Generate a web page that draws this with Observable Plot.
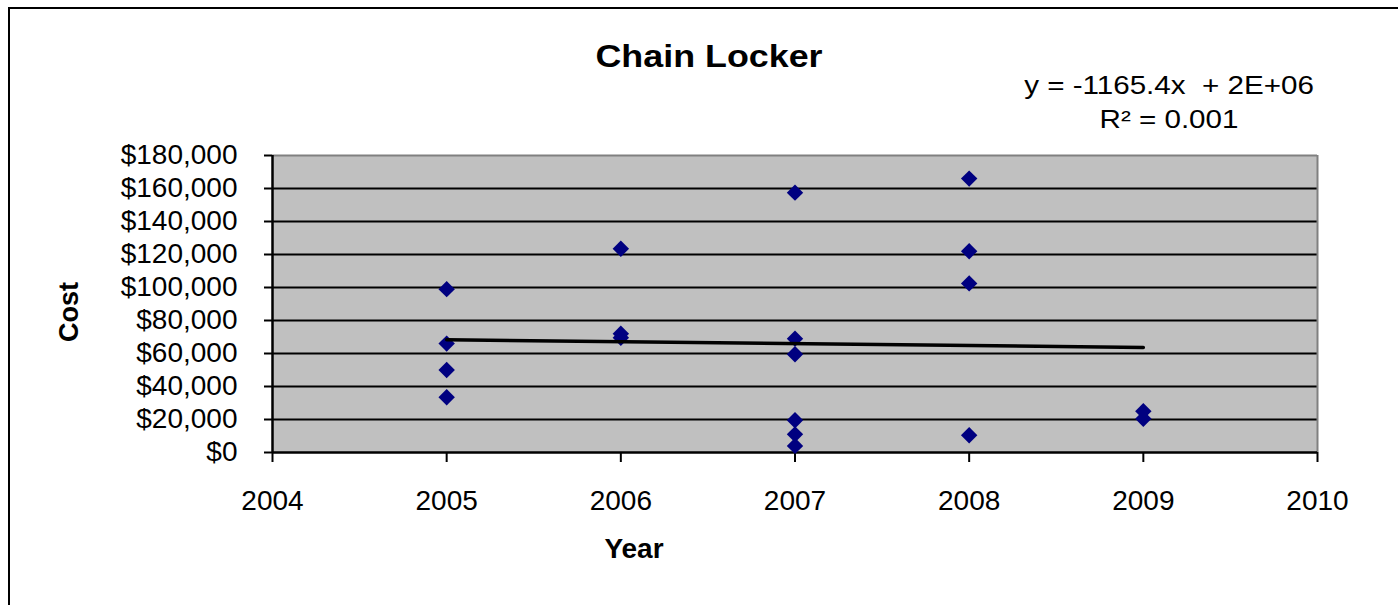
<!DOCTYPE html>
<html>
<head>
<meta charset="utf-8">
<script src="https://cdn.jsdelivr.net/npm/d3@7"></script>
<script src="https://cdn.jsdelivr.net/npm/@observablehq/plot@0.6"></script>
<style>
  html, body { margin: 0; padding: 0; background: #fff; }
  #wrap { position: relative; width: 1398px; height: 605px; overflow: hidden; font-family: "Liberation Sans", Arial, sans-serif; color: #000; }
  #border { position: absolute; left: 8px; top: 7px; width: 1500px; height: 700px; border: 2px solid #000; box-sizing: border-box; }
  #chart { position: absolute; left: 0; top: 0; }
  .txt { position: absolute; white-space: nowrap; text-align: center; }
</style>
</head>
<body>
<div id="wrap">
  <div id="border"></div>
  <div id="chart"></div>
  <div class="txt" id="title" style="left:0;width:1418px;top:40px;font-size:32px;line-height:32px;font-weight:bold;transform:scaleX(1.12);">Chain Locker</div>
  <div class="txt" id="eq" style="left:969px;width:400px;top:68px;font-size:25.5px;line-height:34px;transform:scaleX(1.16);">y = -1165.4x&nbsp; + 2E+06<br>R² = 0.001</div>
  <div class="txt" id="ylab" style="left:69px;top:312px;font-size:27px;line-height:27px;font-weight:bold;transform:translate(-50%,-50%) rotate(-90deg);">Cost</div>
  <div class="txt" id="xlab" style="left:434px;width:400px;top:535px;font-size:28px;line-height:28px;font-weight:bold;">Year</div>
</div>
<script>
// Data
const years = [2005, 2005, 2005, 2005,
               2006, 2006, 2006,
               2007, 2007, 2007, 2007, 2007, 2007,
               2008, 2008, 2008, 2008,
               2009, 2009];
const costs = [99000, 66000, 50000, 33500,
               123500, 72000, 69500,
               157500, 69000, 59500, 19500, 11000, 4000,
               166000, 122000, 102500, 10500,
               25000, 20500];
// Linear trend line (y = -1165.4x + b) endpoints
const trendYears = [2005, 2009];
const trendCosts = [68300, 63640];
// Axis ticks
const xTicks = [2004, 2005, 2006, 2007, 2008, 2009, 2010];
const yTicks = [0, 20000, 40000, 60000, 80000, 100000, 120000, 140000, 160000, 180000];
const gridTicks = yTicks.filter(d => d > 0 && d < 180000);

const points = years.map((x, i) => ({x, y: costs[i]}));
const trend = trendYears.map((x, i) => ({x, y: trendCosts[i]}));
const money = d3.format(",");

const chart = Plot.plot({
  width: 1398,
  height: 605,
  marginLeft: 272,
  marginRight: 81,
  marginTop: 155,
  marginBottom: 153,
  style: { fontFamily: "'Liberation Sans', Arial, sans-serif", fontSize: "28px", background: "transparent", color: "#000", overflow: "visible" },
  x: { domain: [2004, 2010] },
  y: { domain: [0, 180000] },
  marks: [
    Plot.frame({ fill: "#C0C0C0", stroke: null }),
    Plot.gridY(gridTicks, { stroke: "#000", strokeOpacity: 1, strokeWidth: 2 }),
    Plot.ruleY([180000], { stroke: "#808080", strokeWidth: 2 }),
    Plot.ruleX([2010], { stroke: "#808080", strokeWidth: 2 }),
    Plot.ruleY([0], { stroke: "#000", strokeWidth: 2.5 }),
    Plot.ruleX([2004], { stroke: "#000", strokeWidth: 2.5 }),
    Plot.axisX({ ticks: xTicks, tickFormat: d => String(d), tickSize: 10, tickPadding: 28, stroke: "#000", strokeWidth: 2, fill: "#000", label: null, fontSize: 28 }),
    Plot.axisY({ ticks: yTicks, tickFormat: d => "$" + money(d), tickSize: 8, tickPadding: 27, stroke: "#000", strokeWidth: 2, fill: "#000", label: null, fontSize: 28 }),
    Plot.dot(points, { x: "x", y: "y", symbol: "diamond2", r: 7.4, fill: "#000080", stroke: null }),
    Plot.line(trend, { x: "x", y: "y", stroke: "#000", strokeWidth: 3.5 })
  ]
});
document.getElementById("chart").appendChild(chart);
</script>
</body>
</html>
